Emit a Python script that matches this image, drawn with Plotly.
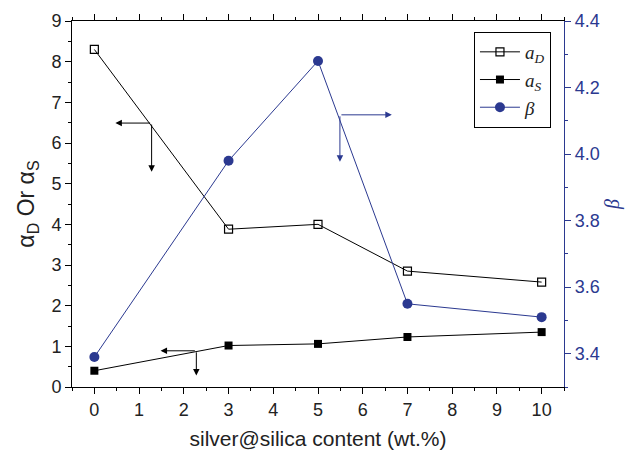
import plotly.graph_objects as go

x_content = [0, 3, 5, 7, 10]
alpha_D = [8.3, 3.88, 4.0, 2.85, 2.58]
alpha_S = [0.4, 1.02, 1.06, 1.23, 1.35]
beta = [3.39, 3.98, 4.28, 3.55, 3.51]

BLUE = "#2b3990"
BLACK = "#000000"

# arrow annotations: (corner_x, corner_y, tip_x, tip_y, axis, colour)
arrows = [
    (1.28, 6.49, 0.47, 6.49, "y", BLACK),
    (1.28, 6.49, 1.28, 5.29, "y", BLACK),
    (5.49, 4.118, 6.65, 4.118, "y2", BLUE),
    (5.49, 4.118, 5.49, 3.977, "y2", BLUE),
    (2.28, 0.89, 1.48, 0.89, "y", BLACK),
    (2.28, 0.89, 2.28, 0.28, "y", BLACK),
]

fig = go.Figure()
fig.add_trace(go.Scatter(
    x=x_content, y=alpha_D, mode="lines+markers", name="<i>a<sub>D</sub></i>",
    line=dict(color=BLACK, width=1),
    marker=dict(symbol="square-open", size=8, color=BLACK, line=dict(width=1.2)),
))
fig.add_trace(go.Scatter(
    x=x_content, y=alpha_S, mode="lines+markers", name="<i>a<sub>S</sub></i>",
    line=dict(color=BLACK, width=1),
    marker=dict(symbol="square", size=8, color=BLACK),
))
fig.add_trace(go.Scatter(
    x=x_content, y=beta, mode="lines+markers", name="<i>β</i>", yaxis="y2",
    line=dict(color=BLUE, width=1),
    marker=dict(symbol="circle", size=10, color=BLUE),
))

annotations = []
for cx, cy, tx, ty, ax_name, col in arrows:
    annotations.append(dict(
        x=tx, y=ty, ax=cx, ay=cy, xref="x", yref=ax_name, axref="x", ayref=ax_name,
        showarrow=True, arrowhead=2, arrowsize=1.3, arrowwidth=1, arrowcolor=col, text="",
    ))

tickfont = dict(family="Liberation Sans, Arial", size=18, color="#222222")
fig.update_layout(
    width=631, height=456,
    margin=dict(l=72, r=67, t=21, b=69),
    paper_bgcolor="white", plot_bgcolor="white",
    showlegend=True,
    legend=dict(
        x=0.817, y=0.97, xanchor="left", yanchor="top",
        bordercolor=BLACK, borderwidth=1, bgcolor="white",
        font=dict(family="Liberation Serif, Times New Roman", size=19, color="#222222"),
        itemwidth=40, tracegroupgap=0,
    ),
    xaxis=dict(
        range=[-0.5, 10.5], dtick=1, tick0=0, showgrid=False, zeroline=False,
        showline=True, linecolor=BLACK, linewidth=1, mirror="ticks", automargin=False,
        ticks="outside", ticklen=6, tickcolor=BLACK,
        minor=dict(dtick=0.5, ticks="outside", ticklen=3, tickcolor=BLACK),
        tickfont=tickfont,
        title=dict(text="silver@silica content (wt.%)", standoff=12,
                   font=dict(family="Liberation Sans, Arial", size=21, color="#222222")),
    ),
    yaxis=dict(
        range=[0, 9], dtick=1, showgrid=False, zeroline=False, automargin=False,
        showline=True, linecolor=BLACK, linewidth=1,
        ticks="outside", ticklen=6, tickcolor=BLACK,
        minor=dict(dtick=0.5, ticks="outside", ticklen=3, tickcolor=BLACK),
        tickfont=tickfont,
        title=dict(text="α<sub>D</sub> Or α<sub>S</sub>", standoff=10,
                   font=dict(family="Liberation Sans, Arial", size=23, color="#222222")),
    ),
    yaxis2=dict(
        range=[3.3, 4.4], dtick=0.2, tick0=0, overlaying="y", side="right",
        showgrid=False, zeroline=False, tickformat=".1f", automargin=False,
        showline=True, linecolor=BLUE, linewidth=1.2,
        ticks="outside", ticklen=6, tickcolor=BLUE,
        minor=dict(dtick=0.1, ticks="outside", ticklen=3, tickcolor=BLUE),
        tickfont=dict(family="Liberation Sans, Arial", size=18, color=BLUE),
        title=dict(text="<i>β</i>", standoff=6,
                   font=dict(family="Liberation Serif, Times New Roman", size=20, color=BLUE)),
    ),
    annotations=annotations,
)

fig.write_html("out.html")
